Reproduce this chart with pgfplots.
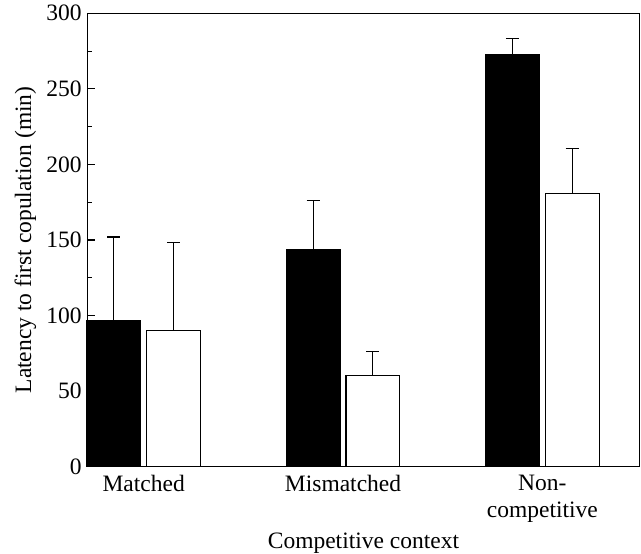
\documentclass[border=0pt]{standalone}
\usepackage{fontspec}
\setmainfont{Liberation Serif}
\usepackage{pgfplots}
\pgfplotsset{compat=1.18}
\begin{document}
\fontsize{23}{26.5}\selectfont
\begin{tikzpicture}
\begin{axis}[
  scale only axis, width=552.3pt, height=453.4pt,
  xmin=-0.283, xmax=2.488, ymin=0, ymax=300,
  xtick={0,1,2},
  xticklabels={Matched, Mismatched, {Non-\\competitive}},
  xtick style={draw=none},
  xticklabel style={align=center, anchor=north, inner sep=0pt, yshift=-8.5pt, font=\fontsize{23.5}{26.5}\selectfont},
  ytick={0,50,100,150,200,250,300},
  minor y tick num=1,
  ytick pos=left, xtick pos=bottom,
  tick align=inside,
  major tick length=7.5pt, minor tick length=5pt,
  every tick/.style={line width=1.1pt, black},
  axis line style={line width=1.1pt},
  yticklabel style={anchor=east, inner sep=0pt, xshift=-5.5pt, font=\fontsize{23.5}{26.5}\selectfont},
  /pgf/number format/assume math mode=true,
  xlabel={Competitive context},
  ylabel={Latency to first copulation (min)},
  xlabel style={at={(axis description cs:0.5,-0.1809)}, anchor=base, font=\fontsize{23.5}{26.5}\selectfont},
  ylabel style={at={(axis description cs:-0.1123,0.5)}, anchor=center, font=\fontsize{23.5}{26.5}\selectfont},
  clip=false,
]
\addplot[ybar, bar width=0.27, bar shift=0, fill=black, draw=black, line width=1.1pt,
  error bars/.cd, y dir=plus, y explicit,
  error bar style={line width=1.1pt, black},
  error mark options={line width=1.1pt, mark size=6.5pt, rotate=90}]
  coordinates {(-0.15,97) +- (0,55) (0.85,144) +- (0,32) (1.85,273) +- (0,10.5)};
\addplot[ybar, bar width=0.27, bar shift=0, fill=white, draw=black, line width=1.1pt,
  error bars/.cd, y dir=plus, y explicit,
  error bar style={line width=1.1pt, black},
  error mark options={line width=1.1pt, mark size=6.5pt, rotate=90}]
  coordinates {(0.15,90) +- (0,58.5) (1.15,60.5) +- (0,16) (2.15,181) +- (0,29.5)};
\coordinate (sw) at (rel axis cs:0,0);
\coordinate (ne) at (rel axis cs:1,1);
\end{axis}
\pgfresetboundingbox
\path[use as bounding box] (sw) ++(-87.3pt,-87.3pt) rectangle ([shift={(1.4pt,13.3pt)}]ne);
\end{tikzpicture}
\end{document}
